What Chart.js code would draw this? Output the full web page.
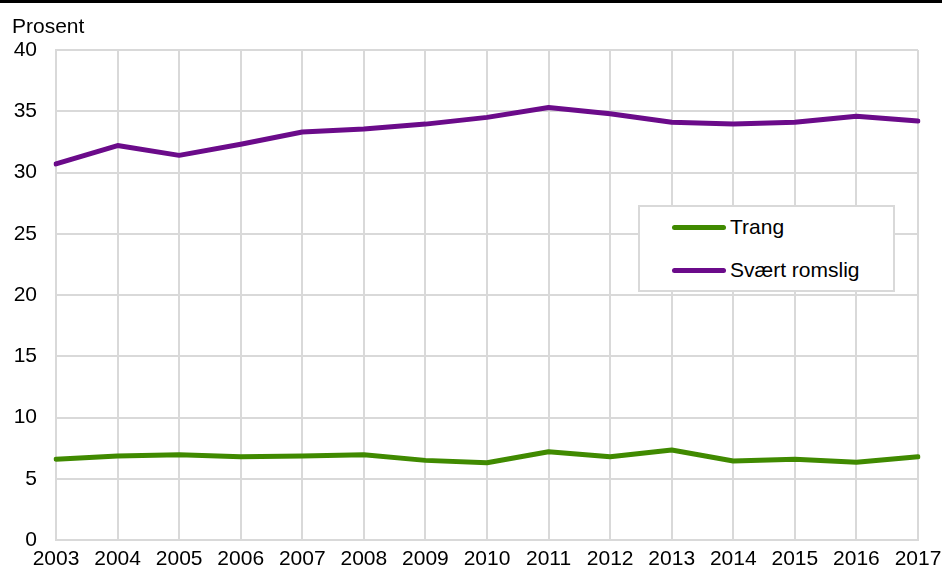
<!DOCTYPE html>
<html>
<head>
<meta charset="utf-8">
<script src="https://cdn.jsdelivr.net/npm/chart.js@4/dist/chart.umd.min.js"></script>
<style>
body{margin:0;background:#fff;font-family:"Liberation Sans",Arial,sans-serif;}
#wrap{position:relative;width:942px;height:567px;overflow:hidden;}
#wrap canvas{display:block;}
#topbar{position:absolute;left:0;top:0;width:942px;height:3px;background:#000;}
#unit{position:absolute;left:12px;top:14px;font-size:21px;color:#000;}
#legend{position:absolute;left:638px;top:205px;width:253px;height:83px;border:2px solid #d9d9d9;background:#fff;}
.item{position:absolute;left:32px;height:24px;font-size:21px;line-height:24px;white-space:nowrap;color:#000;}
.swatch{display:inline-block;width:54px;height:5px;border-radius:3px;vertical-align:middle;margin-right:4px;position:relative;top:-1px;}
</style>
</head>
<body>
<div id="wrap">
  <canvas id="myChart" width="942" height="567"></canvas>
  <div id="topbar"></div>
  <div id="unit">Prosent</div>
  <div id="legend"></div>
</div>
<script>
var years=['2003','2004','2005','2006','2007','2008','2009','2010','2011','2012','2013','2014','2015','2016','2017'];
var trang=[6.6,6.85,6.95,6.8,6.85,6.95,6.5,6.3,7.2,6.8,7.35,6.45,6.6,6.35,6.8];
var romslig=[30.7,32.2,31.4,32.3,33.3,33.55,33.95,34.5,35.3,34.8,34.1,33.95,34.1,34.6,34.2];
var seriesNames=['Trang','Svært romslig'];
var seriesColors=['#408a00','#6b0b8a'];

var tickFont={family:'"Liberation Sans", Arial, sans-serif',size:21};

// fixed axis sizes, no extra label padding so the plot area stays put
function fixAxis(size,horizontal){
    return function(s){
        if(horizontal) s.height=size; else s.width=size;
        s.paddingLeft=0;s.paddingRight=0;s.paddingTop=0;s.paddingBottom=0;
    };
}

var ctx=document.getElementById('myChart').getContext('2d');
var myChart=new Chart(ctx,{
    type:'line',
    data:{
        labels:years,
        datasets:[trang,romslig].map(function(v,i){
            return {label:seriesNames[i],data:v,borderColor:seriesColors[i],backgroundColor:seriesColors[i],
                borderWidth:5,pointRadius:0,tension:0,borderCapStyle:'round',borderJoinStyle:'round'};
        })
    },
    options:{
        responsive:false,
        animation:false,
        devicePixelRatio:1,
        layout:{padding:{top:50,right:24,left:0,bottom:0}},
        plugins:{legend:{display:false},tooltip:{enabled:false}},
        scales:{
            x:{
                grid:{color:'#d9d9d9',lineWidth:2,drawTicks:false},
                border:{color:'#d9d9d9',width:2},
                ticks:{color:'#000',font:tickFont,padding:7,maxRotation:0,autoSkip:false},
                afterFit:fixAxis(27,true)
            },
            y:{
                min:0,max:40,
                grid:{color:'#d9d9d9',lineWidth:2,drawTicks:false},
                border:{color:'#d9d9d9',width:2},
                ticks:{stepSize:5,color:'#000',font:tickFont,padding:19},
                afterFit:fixAxis(56,false)
            }
        }
    }
});

// legend box built from the datasets
var legendHtml='';
myChart.data.datasets.forEach(function(d,i){
    legendHtml+="<div class='item' style='top:"+(8+i*43)+"px'><span class='swatch' style='background:"+d.borderColor+"'></span>"+d.label+"</div>";
});
document.getElementById('legend').innerHTML=legendHtml;
</script>
</body>
</html>
